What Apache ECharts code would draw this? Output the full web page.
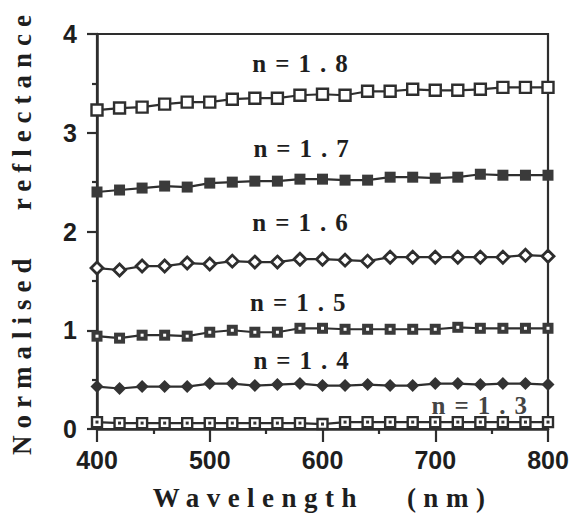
<!DOCTYPE html>
<html>
<head>
<meta charset="utf-8">
<script src="https://cdn.jsdelivr.net/npm/echarts@6/dist/echarts.min.js"></script>
<style>
html,body{margin:0;padding:0;background:#fff;}
#chart{width:575px;height:519px;}
</style>
</head>
<body>
<div id="chart"></div>
<script>
// ---- data ----
const wavelengths = [400,420,440,460,480,500,520,540,560,580,600,620,640,660,680,700,720,740,760,780,800];
const n18 = [3.23,3.25,3.26,3.29,3.31,3.31,3.34,3.35,3.35,3.38,3.39,3.38,3.42,3.42,3.44,3.43,3.43,3.44,3.46,3.46,3.46];
const n17 = [2.40,2.42,2.44,2.46,2.45,2.49,2.50,2.51,2.51,2.53,2.53,2.52,2.52,2.55,2.55,2.54,2.55,2.58,2.57,2.57,2.57];
const n16 = [1.63,1.61,1.65,1.65,1.68,1.67,1.70,1.69,1.69,1.72,1.72,1.71,1.70,1.74,1.74,1.74,1.74,1.74,1.74,1.76,1.75];
const n15 = [0.94,0.92,0.95,0.95,0.94,0.98,1.00,0.98,0.98,1.02,1.02,1.01,1.01,1.01,1.01,1.01,1.03,1.02,1.02,1.02,1.02];
const n14 = [0.43,0.41,0.43,0.43,0.43,0.46,0.46,0.44,0.45,0.46,0.44,0.44,0.45,0.44,0.44,0.46,0.46,0.45,0.46,0.46,0.45];
const n13 = [0.07,0.06,0.06,0.06,0.06,0.06,0.06,0.06,0.06,0.06,0.05,0.07,0.07,0.07,0.07,0.07,0.07,0.07,0.07,0.07,0.07];
const xTicks = [400,500,600,700,800];
const yTicks = [0,1,2,3,4];
const labelTexts = ['n=1.8','n=1.7','n=1.6','n=1.5','n=1.4','n=1.3'];
const labelX = [584,585,584,582,585,743];
const labelY = [3.70,2.84,2.09,1.28,0.69,0.24];
const xTitle = 'Wavelength   (nm)';
const yTitle = 'Normalised   reflectance';

// ---- chart ----
const INK = '#2e2e2e';
const chart = echarts.init(document.getElementById('chart'), null, {renderer:'svg'});
const pairs = arr => wavelengths.map((w,i)=>[w,arr[i]]);

function lineSeries(name, arr, symbol, size, fill, border, bw){
  return {
    name, type:'line', data:pairs(arr), symbol, symbolSize:size, showAllSymbol:true,
    lineStyle:{color:INK,width:2.2}, itemStyle:{color:fill,borderColor:border,borderWidth:bw,opacity:1},
    animation:false, silent:true, clip:false, z:3
  };
}
function dotSeries(name, arr, size, fill){
  return {
    name, type:'line', data:pairs(arr), symbol:'rect', symbolSize:size, showAllSymbol:true,
    lineStyle:{opacity:0,width:0}, itemStyle:{color:fill,borderWidth:0},
    animation:false, silent:true, clip:false, z:4
  };
}

const sansLabel = {fontFamily:'Liberation Sans', fontWeight:'bold', fontSize:25, color:'#1e1e1e'};
const serifTitle = {fontFamily:'Liberation Serif', fontWeight:'bold', fontSize:27, color:'#1e1e1e'};

chart.setOption({
  animation:false,
  backgroundColor:'#fff',
  grid:{left:96, right:27, top:34, bottom:90, show:true, borderColor:INK, borderWidth:2.2, backgroundColor:'transparent'},
  xAxis:{
    type:'value', min:400, max:800, interval:100,
    name:xTitle, nameLocation:'middle', nameGap:55, nameTextStyle:serifTitle,
    axisLine:{lineStyle:{color:INK,width:2.5}},
    axisTick:{length:13, lineStyle:{color:INK,width:2.2}},
    minorTick:{show:true, splitNumber:2, length:5, lineStyle:{color:INK,width:2.2}},
    axisLabel:Object.assign({margin:18, formatter:v=>xTicks.includes(v)?String(v):''}, sansLabel),
    splitLine:{show:false}
  },
  yAxis:{
    type:'value', min:0, max:4, interval:1,
    name:yTitle, nameLocation:'middle', nameGap:62, nameTextStyle:serifTitle,
    axisLine:{lineStyle:{color:INK,width:2.5}},
    axisTick:{length:10, lineStyle:{color:INK,width:2.2}},
    minorTick:{show:true, splitNumber:2, length:5, lineStyle:{color:INK,width:2.2}},
    axisLabel:Object.assign({margin:20, formatter:v=>yTicks.includes(v)?String(v):''}, sansLabel),
    splitLine:{show:false}
  },
  series:[
    lineSeries('n=1.8', n18, 'rect', 11, '#fff', INK, 2.4),
    lineSeries('n=1.7', n17, 'rect', 11, '#3a3a3a', '#3a3a3a', 0),
    lineSeries('n=1.6', n16, 'diamond', 12, '#fff', INK, 2.8),
    lineSeries('n=1.5', n15, 'rect', 11, '#3a3a3a', '#3a3a3a', 0),
    dotSeries('n=1.5 dot', n15, 3, '#fff'),
    lineSeries('n=1.4', n14, 'diamond', 13, '#333', '#333', 0),
    lineSeries('n=1.3', n13, 'rect', 10, '#fff', INK, 2.4),
    dotSeries('n=1.3 dot', n13, 3, '#333')
  ]
});

function placeLabels(){
  const els = labelTexts.map((t,i)=>{
    const p = chart.convertToPixel({gridIndex:0}, [labelX[i], labelY[i]]);
    return {
      type:'text', x:p[0], y:p[1], z:10, silent:true,
      style:{text:t, fill: i===5 ? '#444' : '#1e1e1e', font:'bold 25px "Liberation Serif"', align:'center', verticalAlign:'middle'}
    };
  });
  chart.setOption({graphic:els});
}
placeLabels();

function spaceTexts(){
  const texts = document.querySelectorAll('#chart svg text');
  texts.forEach(el=>{
    const c = el.textContent;
    if (labelTexts.includes(c)) { el.style.letterSpacing='9px'; el.style.whiteSpace='pre'; }
    else if (c===xTitle) { el.style.letterSpacing='7.5px'; el.style.whiteSpace='pre'; }
    else if (c===yTitle) { el.style.letterSpacing='7px'; el.style.whiteSpace='pre'; }
  });
}
spaceTexts();
chart.on('finished', ()=>setTimeout(spaceTexts,0));
setTimeout(spaceTexts,50);
</script>
</body>
</html>
